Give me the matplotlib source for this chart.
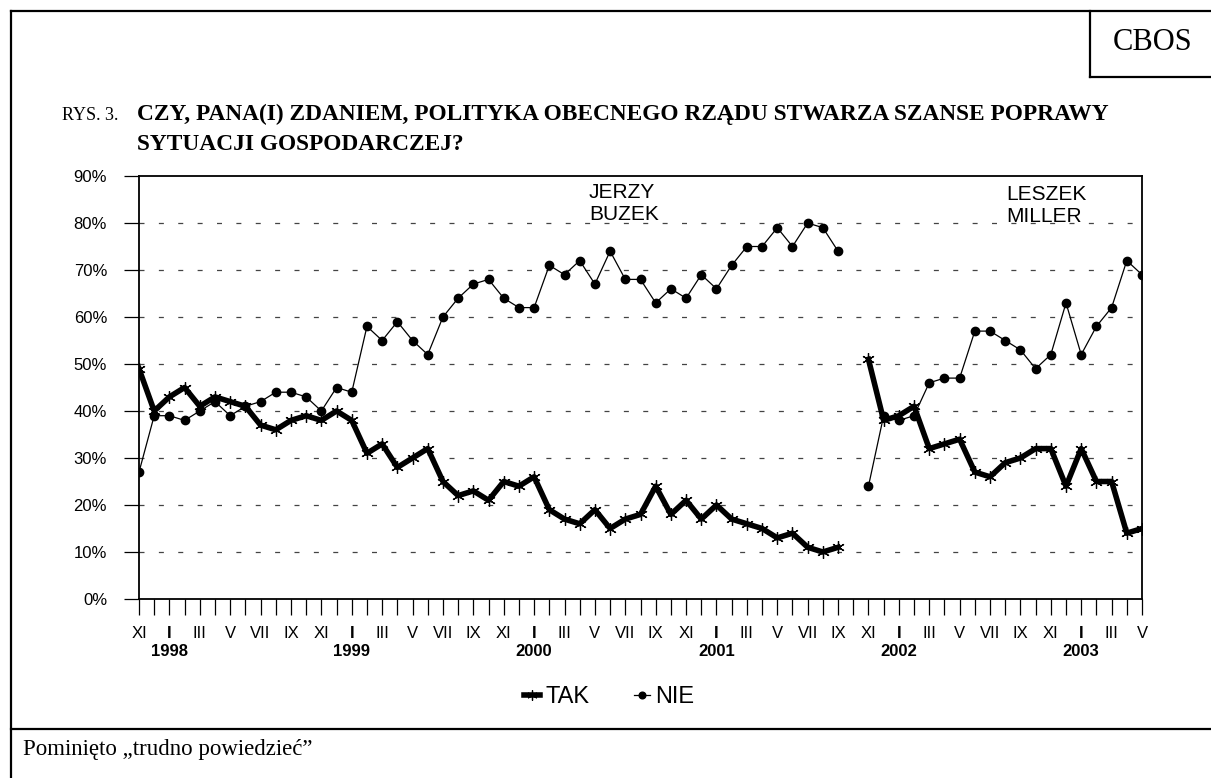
import numpy as np
import matplotlib
matplotlib.use("Agg")
import matplotlib.pyplot as plt
from matplotlib.lines import Line2D

plt.rcParams['font.family'] = ['Liberation Sans', 'DejaVu Sans']

# dane: XI 1997 - IX 2001 (rzad Buzka), XI 2001 - V 2003 (rzad Millera)
tak_buzek = [49, 40, 43, 45, 41, 43, 42, 41, 37, 36, 38, 39, 38, 40, 38, 31,
             33, 28, 30, 32, 25, 22, 23, 21, 25, 24, 26, 19, 17, 16, 19, 15,
             17, 18, 24, 18, 21, 17, 20, 17, 16, 15, 13, 14, 11, 10, 11]
nie_buzek = [27, 39, 39, 38, 40, 42, 39, 41, 42, 44, 44, 43, 40, 45, 44, 58,
             55, 59, 55, 52, 60, 64, 67, 68, 64, 62, 62, 71, 69, 72, 67, 74,
             68, 68, 63, 66, 64, 69, 66, 71, 75, 75, 79, 75, 80, 79, 74]
tak_miller = [51, 38, 39, 41, 32, 33, 34, 27, 26, 29, 30, 32, 32, 24, 32, 25,
              25, 14, 15]
nie_miller = [24, 39, 38, 39, 46, 47, 47, 57, 57, 55, 53, 49, 52, 63, 52, 58,
              62, 72, 69]

miesiace = ["I", "II", "III", "IV", "V", "VI", "VII", "VIII", "IX", "X", "XI", "XII"]
start_miesiac = 10   # listopad 1997
start_rok = 1997
n_msc = 67           # XI 1997 .. V 2003 (X 2001 bez badania)

tak = np.array(tak_buzek + [np.nan] + tak_miller, dtype=float)
nie = np.array(nie_buzek + [np.nan] + nie_miller, dtype=float)
x = np.arange(n_msc)

W, H = 1211, 778
fig = plt.figure(figsize=(W / 100, H / 100), dpi=100)
ax = fig.add_axes([139 / W, 1 - 599 / H, (1142 - 139) / W, (599 - 176) / H])

# ramki strony
def linia(x0, y0, x1, y1, lw=1.6):
    fig.add_artist(Line2D([x0 / W, x1 / W], [1 - y0 / H, 1 - y1 / H],
                          color='black', lw=lw, transform=fig.transFigure))

linia(11, 11, 11, 778)
linia(11, 11, 1211, 11)
linia(11, 729, 1211, 729)
linia(1090, 11, 1090, 77)
linia(1090, 77, 1211, 77)

fig.text(1153 / W, 1 - 42 / H, "CBOS", family='Liberation Serif', fontsize=22,
         ha='center', va='center')
fig.text(62 / W, 1 - 115 / H, "RYS. 3.", family='Liberation Serif', fontsize=13,
         ha='left', va='center')
fig.text(137 / W, 1 - 114 / H,
         "CZY, PANA(I) ZDANIEM, POLITYKA OBECNEGO RZĄDU STWARZA SZANSE POPRAWY",
         family='Liberation Serif', fontsize=16.8, fontweight='bold', ha='left', va='center')
fig.text(137 / W, 1 - 145 / H, "SYTUACJI GOSPODARCZEJ?",
         family='Liberation Serif', fontsize=16.8, fontweight='bold', ha='left', va='center')
fig.text(23 / W, 1 - 749 / H, "Pominięto „trudno powiedzieć”",
         family='Liberation Serif', fontsize=16.5, ha='left', va='center')

# serie
ax.plot(x, tak, color='black', lw=4, marker=(6, 2, 0), ms=9, mew=0.9,
        label='TAK', zorder=3)
ax.plot(x, nie, color='black', lw=0.9, marker='o', ms=6,
        label='NIE', zorder=4)

ax.set_xlim(0, n_msc - 1)
ax.set_ylim(0, 90)
ax.set_yticks(range(0, 91, 10))
ax.set_yticklabels([f"{v}%" for v in range(0, 91, 10)], fontsize=12)

for v in range(10, 90, 10):
    ax.axhline(v, color='#444444', lw=0.9, ls=(0, (4, 11.5)), zorder=1)

ax.set_xticks(x)
etykiety = []
for i in x:
    m = (start_miesiac + i) % 12
    etykiety.append(miesiace[m] if i % 2 == 0 else "")
ax.set_xticklabels(etykiety, fontsize=12)
for t in ax.get_xticklabels():
    if t.get_text() == "I":
        t.set_fontweight('bold')
ax.tick_params(axis='x', direction='out', length=11.5, width=0.9, pad=8)
ax.tick_params(axis='y', direction='out', length=11, width=0.9, pad=12)

for i in x:
    if (start_miesiac + i) % 12 == 0:
        rok = start_rok + (start_miesiac + i) // 12
        ax.text(i, -0.125, str(rok), transform=ax.get_xaxis_transform(),
                ha='center', va='center', fontsize=12, fontweight='bold')

for s in ax.spines.values():
    s.set_linewidth(1.3)

fig.text(589 / W, 1 - 203.5 / H, "JERZY\nBUZEK", fontsize=15, ha='left', va='center',
         linespacing=1.2)
fig.text(1006 / W, 1 - 205 / H, "LESZEK\nMILLER", fontsize=15, ha='left', va='center',
         linespacing=1.2)

fig.legend(loc='center', bbox_to_anchor=(609 / W, 1 - 697 / H), ncol=2,
           frameon=False, fontsize=17, handlelength=0.7, handletextpad=0.2,
           columnspacing=1.9, markerscale=0.8)

fig.savefig("out.png", dpi=100)
